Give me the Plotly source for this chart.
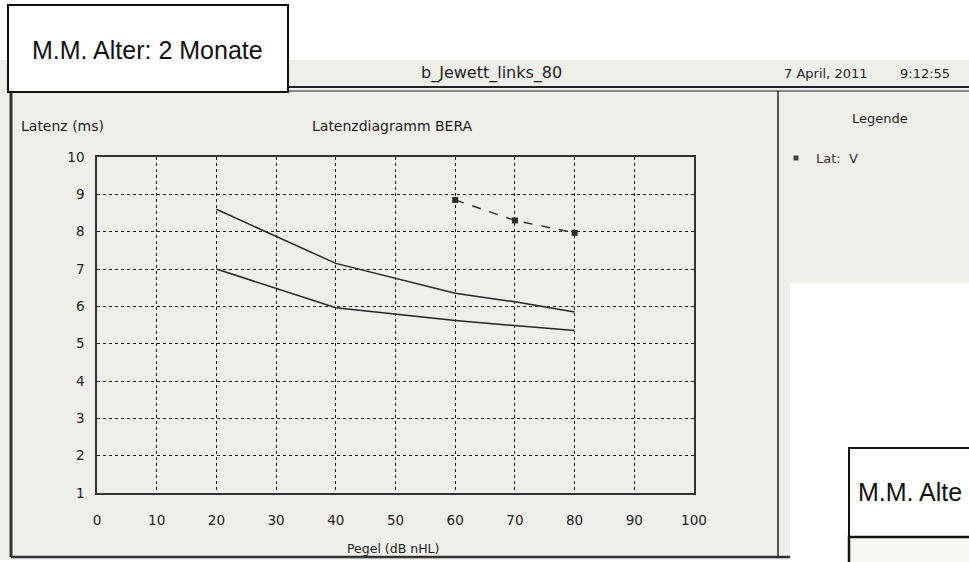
import plotly.graph_objects as go

# ---------------- data ----------------
norm_levels = [20, 40, 60, 70, 80]          # Pegel (dB nHL)
norm_upper = [8.6, 7.15, 6.35, 6.12, 5.85]  # Latenz (ms) upper normal limit
norm_lower = [7.0, 5.96, 5.62, 5.49, 5.35]  # Latenz (ms) lower normal limit
meas_levels = [60, 70, 80]
lat_V = [8.85, 8.3, 7.97]
x_ticks = [0, 10, 20, 30, 40, 50, 60, 70, 80, 90, 100]
y_ticks = [1, 2, 3, 4, 5, 6, 7, 8, 9, 10]

W, H = 969, 562
L, R, T, B = 97, 694, 157, 493  # plot-area pixel edges


def fx(px):
    return (px - L) / (R - L)


def fy(py):
    return (B - py) / (B - T)


FONT = "DejaVu Sans, Liberation Sans, sans-serif"
ARIAL = "Arial, Liberation Sans, sans-serif"
INK = "#1e1e1e"
SCAN = "#efefea"

fig = go.Figure()
fig.add_trace(go.Scatter(x=norm_levels, y=norm_upper, mode="lines",
                         line=dict(color="#262626", width=1.5), showlegend=False,
                         hoverinfo="skip"))
fig.add_trace(go.Scatter(x=norm_levels, y=norm_lower, mode="lines",
                         line=dict(color="#262626", width=1.5), showlegend=False,
                         hoverinfo="skip"))
fig.add_trace(go.Scatter(x=meas_levels, y=lat_V, mode="lines+markers",
                         line=dict(color="#2a2a2a", width=1.4, dash="dash"),
                         marker=dict(symbol="square", size=6, color="#2a2a2a"),
                         name="Lat:  V", showlegend=False))
# legend entry (marker only)
fig.add_trace(go.Scatter(x=[None], y=[None], mode="markers",
                         marker=dict(symbol="square", size=5, color="#444"),
                         name="Lat:  V", showlegend=True))

shapes = []
# scanned printout background
shapes.append(dict(type="rect", xref="paper", yref="paper", layer="below",
                   x0=fx(0), x1=fx(W), y0=fy(560), y1=fy(60),
                   fillcolor=SCAN, line=dict(width=0)))
# header double line
for yy, w in [(87, 2.2), (91, 1.2)]:
    shapes.append(dict(type="line", xref="paper", yref="paper", layer="above",
                       x0=fx(288), x1=fx(W), y0=fy(yy), y1=fy(yy),
                       line=dict(color="#222", width=w)))
# panel borders
shapes.append(dict(type="line", xref="paper", yref="paper", layer="above",
                   x0=fx(11), x1=fx(11), y0=fy(92), y1=fy(557),
                   line=dict(color="#333", width=3)))
shapes.append(dict(type="line", xref="paper", yref="paper", layer="above",
                   x0=fx(11), x1=fx(790), y0=fy(557), y1=fy(557),
                   line=dict(color="#333", width=2.5)))
shapes.append(dict(type="line", xref="paper", yref="paper", layer="above",
                   x0=fx(778), x1=fx(778), y0=fy(91), y1=fy(557),
                   line=dict(color="#222", width=1.5)))
# white pasted region bottom right
shapes.append(dict(type="rect", xref="paper", yref="paper", layer="above",
                   x0=fx(790), x1=fx(W + 5), y0=fy(H + 5), y1=fy(283),
                   fillcolor="white", line=dict(width=0)))
# top-left label box
shapes.append(dict(type="rect", xref="paper", yref="paper", layer="above",
                   x0=fx(8), x1=fx(288), y0=fy(92), y1=fy(5),
                   fillcolor="white", line=dict(color="#111", width=2)))
# bottom-right label box (cut off)
shapes.append(dict(type="rect", xref="paper", yref="paper", layer="above",
                   x0=fx(849), x1=fx(W + 20), y0=fy(537), y1=fy(448),
                   fillcolor="white", line=dict(color="#111", width=2)))
shapes.append(dict(type="rect", xref="paper", yref="paper", layer="above",
                   x0=fx(849), x1=fx(W + 20), y0=fy(H + 20), y1=fy(537),
                   fillcolor="#f7f7f5", line=dict(color="#111", width=2.5)))

ann = []


def text(px, py, s, size=13, anchor="left", color=INK, family=FONT):
    ann.append(dict(xref="paper", yref="paper", x=fx(px), y=fy(py), text=s,
                    showarrow=False, xanchor=anchor, yanchor="middle",
                    font=dict(family=family, size=size, color=color)))


text(30, 50, "M.M. Alter: 2 Monate", size=25, color="#111", family=ARIAL)
text(856, 492, "M.M. Alte", size=25, color="#111", family=ARIAL)
text(491, 73, "b_Jewett_links_80", size=16, anchor="center")
text(825, 73, "7 April, 2011", size=13, anchor="center")
text(925, 73, "9:12:55", size=13, anchor="center")
text(19, 126, "Latenz (ms)", size=14)
text(392, 126, "Latenzdiagramm BERA", size=14, anchor="center")
text(393, 548, "Pegel (dB nHL)", size=12.5, anchor="center")
text(880, 119, "Legende", size=13, anchor="center")

fig.update_layout(
    width=W, height=H, autosize=False,
    margin=dict(l=L, r=W - R, t=T, b=H - B, pad=0),
    paper_bgcolor="white", plot_bgcolor="rgba(0,0,0,0)",
    shapes=shapes, annotations=ann,
    showlegend=True,
    legend=dict(x=fx(776), y=fy(143), xanchor="left", yanchor="top",
                bgcolor="rgba(0,0,0,0)", itemwidth=30,
                font=dict(family=FONT, size=13, color="#333")),
    xaxis=dict(range=[0, 100], tickvals=x_ticks, ticktext=[str(v) for v in x_ticks],
               showgrid=True, gridcolor="#1a1a1a", griddash="dot", gridwidth=1.2,
               showline=True, linecolor="#333", linewidth=1.5, mirror=True,
               zeroline=False, ticks="outside", ticklen=14, tickcolor="rgba(0,0,0,0)",
               tickfont=dict(family=FONT, size=13.5, color=INK)),
    yaxis=dict(range=[1, 10], tickvals=y_ticks, ticktext=[str(v) for v in y_ticks],
               showgrid=True, gridcolor="#1a1a1a", griddash="dot", gridwidth=1.2,
               showline=True, linecolor="#333", linewidth=1.5, mirror=True,
               zeroline=False, ticks="outside", ticklen=8, tickcolor="rgba(0,0,0,0)",
               tickfont=dict(family=FONT, size=13.5, color=INK)),
)

fig.write_html("out.html", config={"displayModeBar": False},
               post_script="document.body.style.margin='0';document.body.style.overflow='hidden';")
